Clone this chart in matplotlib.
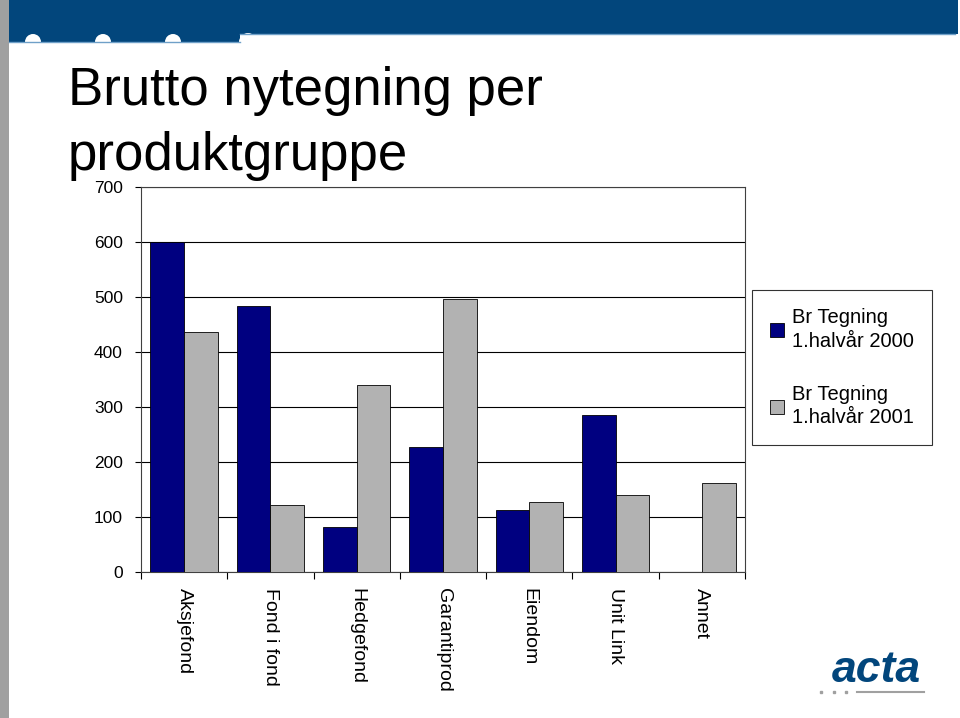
import matplotlib
matplotlib.use('Agg')
import matplotlib.pyplot as plt
import numpy as np
from matplotlib.patches import Rectangle, Circle
from matplotlib.legend_handler import HandlerPatch

plt.rcParams['font.family'] = ['Liberation Sans', 'DejaVu Sans']

# Data
categories = ['Aksjefond', 'Fond i fond', 'Hedgefond', 'Garantiprod',
              'Eiendom', 'Unit Link', 'Annet']
tegning_2000 = [600, 483, 82, 227, 113, 285, 0]
tegning_2001 = [436, 122, 340, 496, 127, 140, 162]
series_labels = ['Br Tegning\n1.halvår 2000', 'Br Tegning\n1.halvår 2001']
yticks = [0, 100, 200, 300, 400, 500, 600, 700]

W, H = 960, 718
fig = plt.figure(figsize=(W / 100, H / 100), dpi=100)
fig.patch.set_facecolor('white')

BLUE = '#02467c'

# slide decoration: banner, bumps, left bar
bg = fig.add_axes([0, 0, 1, 1], zorder=0)
bg.set_xlim(0, W)
bg.set_ylim(H, 0)
bg.axis('off')
bg.add_patch(Rectangle((0, 0), 240, 42, color=BLUE, lw=0))
bg.add_patch(Rectangle((240, 0), 718, 34, color=BLUE, lw=0))
bg.plot([9, 240], [42, 42], color='#6fa0c8', lw=1)
bg.plot([240, 955], [34, 34], color='#6fa0c8', lw=1)
for cx in (33, 103, 173):
    bg.add_patch(Circle((cx, 42), 8, color='white', lw=0))
bg.add_patch(Circle((248, 42), 9, color='white', lw=0))
bg.add_patch(Rectangle((0, 0), 9, H, color='#a0a0a0', lw=0))

# acta logo
bg.text(876, 671, 'acta', color=BLUE, fontsize=32, fontweight='bold',
        style='italic', ha='center', va='center')
for dx in (821, 834, 846):
    bg.plot(dx, 692, 's', ms=1.5, color='#a0a0a0')
bg.plot([857, 924], [692, 692], color='#a0a0a0', lw=1.5)

# title
fig.text(68 / W, 1 - 105 / H, 'Brutto nytegning per', fontsize=38,
         ha='left', va='baseline')
fig.text(68 / W, 1 - 170 / H, 'produktgruppe', fontsize=38,
         ha='left', va='baseline')

# chart
ax = fig.add_axes([141 / W, 1 - 572 / H, (745 - 141) / W, (572 - 187) / H],
                  zorder=2)
ax.set_facecolor('none')
x = np.arange(len(categories))
w = 0.39
ax.bar(x - w / 2, tegning_2000, w, color='#000080', edgecolor='black',
       linewidth=0.6, label=series_labels[0], zorder=3)
ax.bar(x + w / 2, tegning_2001, w, color='#b2b2b2', edgecolor='black',
       linewidth=0.6, label=series_labels[1], zorder=3)

ax.set_xlim(-0.5, len(categories) - 0.5)
ax.set_ylim(0, 700)
ax.set_yticks(yticks)
ax.set_yticklabels([str(v) for v in yticks], fontsize=12.5)
ax.yaxis.grid(True, color='black', lw=0.8)
ax.set_axisbelow(True)
ax.set_xticks(np.arange(len(categories) + 1) - 0.5)
ax.set_xticklabels([])
ax.tick_params(axis='x', length=5, direction='out', width=0.8)
ax.tick_params(axis='y', length=4, direction='out', width=0.8, pad=9)
for s in ax.spines.values():
    s.set_linewidth(0.8)
    s.set_color('#404040')
for i, c in enumerate(categories):
    ax.text(i, -30, c, rotation=270, fontsize=14, ha='center', va='top')


def top_square(legend, orig_handle, xdescent, ydescent, width, height,
               fontsize):
    # align the swatch with the first text line
    return Rectangle((-xdescent, -ydescent + 0.65 * fontsize), width, height)


leg = ax.legend(loc='upper left', bbox_to_anchor=(752 / W, 1 - 290 / H),
                bbox_transform=fig.transFigure, fontsize=14.5, frameon=True,
                fancybox=False, edgecolor='black', handlelength=0.7,
                handleheight=0.7, handletextpad=0.4, labelspacing=1.7,
                borderpad=0.9, borderaxespad=0,
                handler_map={Rectangle: HandlerPatch(patch_func=top_square)})
leg.get_frame().set_linewidth(0.8)
for t in leg.get_texts():
    t.set_linespacing(1.3)

fig.savefig('out.png', dpi=100)
